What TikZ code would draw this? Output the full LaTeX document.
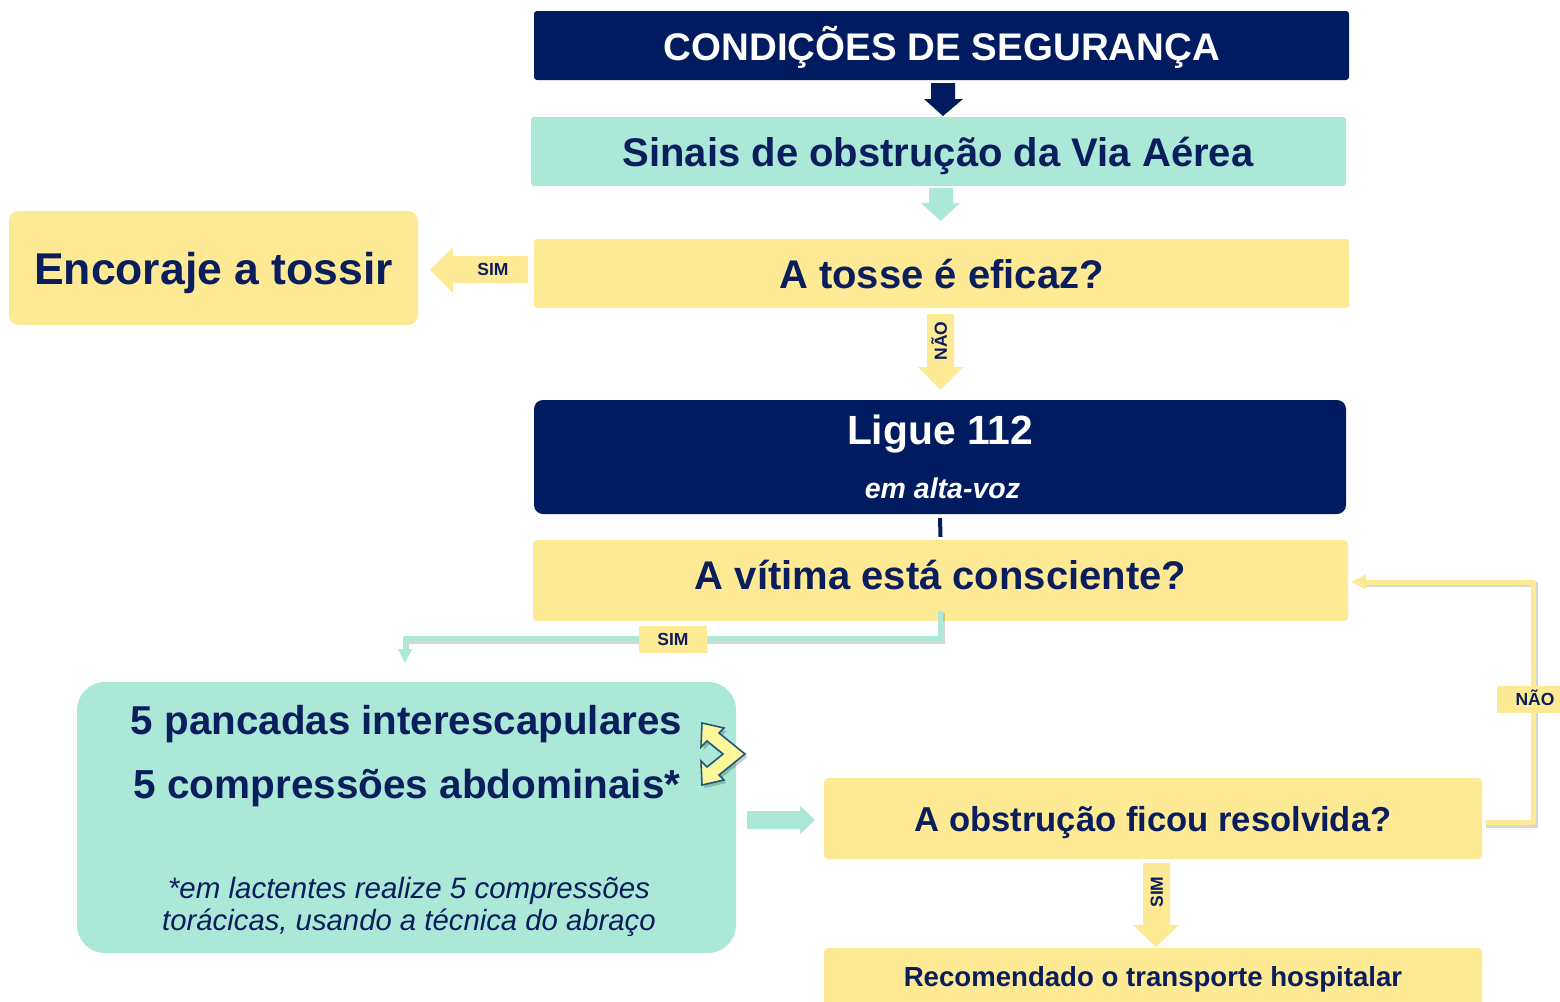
\documentclass[tikz,border=0pt]{standalone}
\usepackage{fontspec}
\setmainfont{Liberation Sans}
\usetikzlibrary{calc}
\definecolor{navy}{HTML}{001B60}
\definecolor{ink}{HTML}{0A1D5C}
\definecolor{mint}{HTML}{ABE8D7}
\definecolor{sun}{HTML}{FEE994}
\definecolor{chev}{HTML}{FCF79A}
\definecolor{chevline}{HTML}{1F5878}
\tikzset{
  panel/.style={rectangle, inner sep=0pt, draw=none},
  navypanel/.style={panel, fill=navy},
  mintpanel/.style={panel, fill=mint},
  sunpanel/.style={panel, fill=sun},
  txt/.style={inner sep=0pt, anchor=base, text=ink, font=\bfseries},
  wtxt/.style={txt, text=white},
  tag/.style={inner sep=0pt, text height=12.53pt, text depth=0pt, text=ink,
     font=\bfseries\fontsize{17.5}{20}\selectfont},
  tagbox/.style={fill=sun, inner sep=0pt},
  shadowline/.style={draw=black, opacity=0.16, line width=5pt},
}
\begin{document}
\begin{tikzpicture}[x=1pt,y=-1pt]
\clip (0,0) rectangle (1560,1001);
\fill[white] (0,0) rectangle (1560,1001);

% ---------- boxes ----------
\node[navypanel, rounded corners=3pt, minimum width=815, minimum height=69] (cond) at (941.5,45.5) {};
\node[wtxt, font=\bfseries\fontsize{38.5}{44}\selectfont] (condt) at (942,60.5) {CONDIÇÕES DE SEGURANÇA};

\node[mintpanel, rounded corners=3pt, minimum width=815, minimum height=69] (sinais) at (938.5,151.5) {};
\node[txt, font=\bfseries\fontsize{40}{46}\selectfont] (sinaist) at (938,166) {Sinais de obstrução da Via Aérea};

\node[sunpanel, rounded corners=3pt, minimum width=815, minimum height=69] (tosse) at (941.5,273.5) {};
\node[txt, font=\bfseries\fontsize{40}{46}\selectfont] (tosset) at (941.5,288.5) {A tosse é eficaz?};

\node[sunpanel, rounded corners=10pt, minimum width=409, minimum height=114] (enc) at (213.5,268) {};
\node[txt, font=\bfseries\fontsize{44.5}{50}\selectfont] (enct) at (213.5,284.5) {Encoraje a tossir};

\node[navypanel, rounded corners=9pt, minimum width=812, minimum height=114] (ligue) at (940,457) {};
\node[wtxt, font=\bfseries\fontsize{40.8}{46}\selectfont] (liguet) at (940,444.5) {Ligue 112};
\node[wtxt, font=\bfseries\itshape\fontsize{28.5}{32}\selectfont] (altavoz) at (942.5,498) {em alta-voz};

\node[sunpanel, rounded corners=4pt, minimum width=815, minimum height=81] (vitima) at (940.5,580.5) {};
\node[txt, font=\bfseries\fontsize{40}{46}\selectfont] (vitimat) at (940.5,589.5) {A vítima está consciente?};

\node[mintpanel, rounded corners=28pt, minimum width=659, minimum height=271] (manobra) at (406.5,817.5) {};
\node[txt, font=\bfseries\fontsize{40.3}{46}\selectfont] (pancadas) at (406.5,734.5) {5 pancadas interescapulares};
\node[txt, font=\bfseries\fontsize{40.5}{46}\selectfont] (compress) at (407,798.5) {5 compressões abdominais*};
\node[txt, font=\mdseries\itshape\fontsize{29.5}{34}\selectfont] (nota1) at (409,898.5) {*em lactentes realize 5 compressões};
\node[txt, font=\mdseries\itshape\fontsize{29.3}{34}\selectfont] (nota2) at (409,930.5) {torácicas, usando a técnica do abraço};

\node[sunpanel, rounded corners=4pt, minimum width=658, minimum height=81] (obstr) at (1153,818.5) {};
\node[txt, font=\bfseries\fontsize{34.6}{40}\selectfont] (obstrt) at (1153,831.5) {A obstrução ficou resolvida?};

\node[sunpanel, rounded corners=4pt, minimum width=658, minimum height=90] (transp) at (1153,993) {};
\node[txt, font=\bfseries\fontsize{27.6}{32}\selectfont] (transpt) at (1153,986) {Recomendado o transporte hospitalar};

% ---------- block arrows ----------
% cond -> sinais (navy)
\fill[navy] (931,83) -- (955,83) -- (955,99) -- (963,99) -- (943,116) -- (924,99) -- (931,99) -- cycle;
% sinais -> tosse (mint)
\fill[mint] (929,188) -- (953,188) -- (953,203) -- (960,203) -- (940.5,221) -- (921,203) -- (929,203) -- cycle;
% tosse -> encoraje (SIM)
\fill[sun] (528,256) -- (453,256) -- (453,247) -- (430,270) -- (453,293) -- (453,283) -- (528,283) -- cycle;
\node[tag] (simA) at (493,269) {SIM};
% tosse -> ligue (NAO)
\fill[sun] (927,314) -- (954,314) -- (954,367) -- (963,367) -- (940.5,390) -- (918,367) -- (927,367) -- cycle;
\node[tag, rotate=90] (naoA) at (940.5,341) {NÃO};
% obstr -> transp (SIM)
\fill[sun] (1143,863) -- (1170,863) -- (1170,925) -- (1179,925) -- (1156,947) -- (1133,925) -- (1143,925) -- cycle;
\node[tag, rotate=90] (simC) at (1156.5,892) {SIM};
% manobra -> obstr (mint)
\fill[mint] (747,811) -- (800,811) -- (800,806) -- (815,820) -- (800,834) -- (800,829) -- (747,829) -- cycle;

% ---------- line connectors ----------
\draw[navy, line width=4pt] ($(ligue.south)+(0,4)$) -- ($(vitima.north)+(0,-3)$);

% SIM (vitima -> manobra)
\coordinate (simleft) at (405,638);
\coordinate (simtip) at (405,663);
\draw[shadowline] ($(vitima.south)+(2,-8)$) |- ($(simleft)+(1,3)$) -- ($(simtip)+(1,-9)$);
\draw[mint, line width=5pt, line join=round] ($(vitima.south)+(0,-10)$) |- (simleft) -- ($(simtip)+(0,-12)$);
\fill[mint] ($(simtip)+(-7,-14)$) -- ($(simtip)+(7,-14)$) -- (simtip) -- cycle;
\node[tagbox, minimum width=68, minimum height=27] (simBbox) at (673,639.5) {};
\node[tag] (simB) at (673,639) {SIM};

% NAO loop (obstr -> vitima)
\coordinate (naotop) at (1533,582);
\draw[shadowline] ($(obstr.east)+(4,6.5)$) -| ($(naotop)+(2,2)$) -- ($(vitima.east)+(16,3.5)$);
\draw[sun, line width=5pt, line join=round] ($(obstr.east)+(3,3.5)$) -| (naotop) -- ($(vitima.east)+(16,1.5)$);
\fill[sun] ($(vitima.east)+(3,1.5)$) -- ($(vitima.east)+(18,-6)$) -- ($(vitima.east)+(18,9)$) -- cycle;
\node[tagbox, minimum width=64, minimum height=27] (naoBbox) at (1528.5,699.5) {};
\node[tag] (naoB) at (1535,699) {NÃO};

% ---------- chevron icon ----------
\begin{scope}[shift={(2.5,3)}]
\fill[black, opacity=0.2] (702,723) -- (724,728) -- (719,733) -- (745,754) -- (719,775) -- (724,780) -- (702,785) -- (701,761) -- (707,767) -- (723,754) -- (707,741) -- (701,747) -- cycle;
\end{scope}
\filldraw[fill=chev, draw=chevline, line width=1.6pt, line join=miter] (702,723) -- (724,728) -- (719,733) -- (745,754) -- (719,775) -- (724,780) -- (702,785) -- (701,761) -- (707,767) -- (723,754) -- (707,741) -- (701,747) -- cycle;
\end{tikzpicture}
\end{document}
